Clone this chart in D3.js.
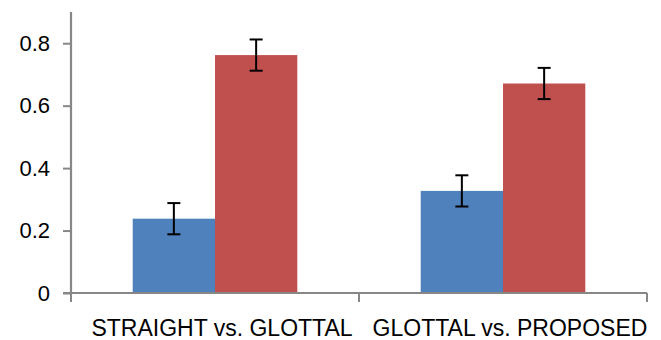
<!DOCTYPE html>
<html>
<head>
<meta charset="utf-8">
<script src="https://cdn.jsdelivr.net/npm/d3@7"></script>
<style>
  html, body { margin: 0; padding: 0; background: #fff; }
  svg { display: block; }
</style>
</head>
<body>
<svg id="chart" width="661" height="340"></svg>
<script>
const categories = ["STRAIGHT vs. GLOTTAL", "GLOTTAL vs. PROPOSED"];
const seriesNames = ["A", "B"];
const seriesA = [0.238, 0.327];
const seriesB = [0.762, 0.671];
const errorsA = [0.05, 0.05];
const errorsB = [0.05, 0.05];
const yTicks = [0, 0.2, 0.4, 0.6, 0.8];
const colors = ["#4F81BD", "#C0504D"];

const svg = d3.select("#chart");
const x0 = 71, x1 = 647, yTop = 12, yBot = 293;
const axisColor = "#878787";

const x = d3.scaleBand().domain(categories).range([x0, x1]).paddingInner(0).paddingOuter(0);
const xs = d3.scaleBand().domain(seriesNames).range([0, x.bandwidth()]).paddingInner(0).paddingOuter(0.75);
const y = d3.scaleLinear().domain([0, 0.9]).range([yBot, yTop]);

const data = [];
categories.forEach((c, i) => {
  data.push({cat: c, s: "A", v: seriesA[i], e: errorsA[i]});
  data.push({cat: c, s: "B", v: seriesB[i], e: errorsB[i]});
});

// bars
svg.append("g").selectAll("rect").data(data).join("rect")
  .attr("x", d => x(d.cat) + xs(d.s))
  .attr("width", xs.bandwidth())
  .attr("y", d => y(d.v))
  .attr("height", d => y(0) - y(d.v))
  .attr("fill", d => colors[seriesNames.indexOf(d.s)]);

// error bars
const eg = svg.append("g").attr("stroke", "#000").attr("stroke-width", 2);
data.forEach(d => {
  const cx = x(d.cat) + xs(d.s) + xs.bandwidth() / 2;
  eg.append("line").attr("x1", cx).attr("x2", cx).attr("y1", y(d.v + d.e)).attr("y2", y(d.v - d.e));
  eg.append("line").attr("x1", cx - 6.5).attr("x2", cx + 6.5).attr("y1", y(d.v + d.e)).attr("y2", y(d.v + d.e));
  eg.append("line").attr("x1", cx - 6.5).attr("x2", cx + 6.5).attr("y1", y(d.v - d.e)).attr("y2", y(d.v - d.e));
});

// y axis
const yAxis = d3.axisLeft(y).tickValues(yTicks).tickSize(8).tickPadding(13)
  .tickFormat(d => d === 0 ? "0" : d3.format(".1f")(d));
const gy = svg.append("g").attr("transform", `translate(${x0},0)`).call(yAxis);
gy.select(".domain").attr("d", `M0,${yTop}V${yBot}`).attr("stroke", axisColor).attr("stroke-width", 2.2);
gy.selectAll(".tick line").attr("stroke", axisColor).attr("stroke-width", 2);
gy.selectAll(".tick text").attr("fill", "#000")
  .style("font-family", "'Liberation Sans', Arial, Helvetica, sans-serif")
  .style("font-size", "22px");

// x axis
const xAxis = d3.axisBottom(x).tickSize(0).tickFormat("");
const gx = svg.append("g").attr("transform", `translate(0,${yBot})`).call(xAxis);
gx.select(".domain").attr("d", `M${x0 - 8},0H${x1}`).attr("stroke", axisColor).attr("stroke-width", 2.2);
gx.selectAll(".tick").remove();
const bounds = [x0].concat(categories.map(c => x(c) + x.bandwidth()));
gx.selectAll("line.sep").data(bounds).join("line").attr("class", "sep")
  .attr("x1", d => d).attr("x2", d => d).attr("y1", 0).attr("y2", 9)
  .attr("stroke", axisColor).attr("stroke-width", 2);
gx.selectAll("text.cat").data(categories).join("text").attr("class", "cat")
  .attr("x", d => x(d) + x.bandwidth() / 2 + 7)
  .attr("y", 43)
  .attr("text-anchor", "middle")
  .attr("fill", "#000")
  .style("font-family", "'Liberation Sans', Arial, Helvetica, sans-serif")
  .style("font-size", "23px")
  .text(d => d);
</script>
</body>
</html>
